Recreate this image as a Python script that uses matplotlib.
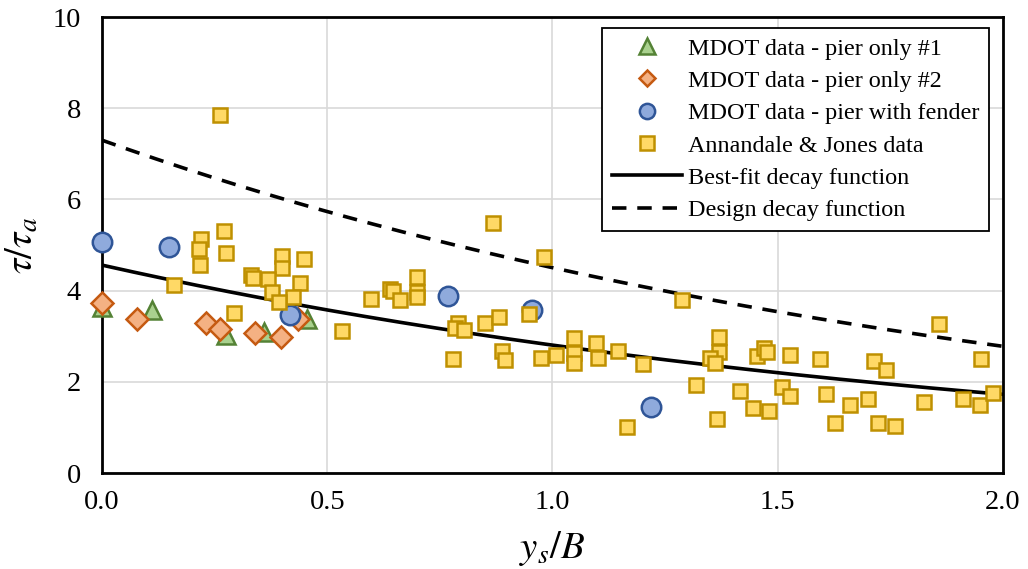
import numpy as np
import matplotlib
matplotlib.use('Agg')
import matplotlib.pyplot as plt

plt.rcParams['font.family'] = ['Liberation Serif', 'DejaVu Serif']
plt.rcParams['mathtext.fontset'] = 'stix'

# MDOT data - pier only #1
pier1_x = [0.0, 0.11, 0.275, 0.36, 0.455]
pier1_y = [3.64, 3.57, 3.03, 3.09, 3.38]

# MDOT data - pier only #2
pier2_x = [0.0, 0.078, 0.23, 0.262, 0.34, 0.397, 0.435]
pier2_y = [3.73, 3.38, 3.29, 3.16, 3.07, 2.98, 3.38]

# MDOT data - pier with fender
fender_x = [0.0, 0.149, 0.417, 0.768, 0.955, 1.219]
fender_y = [5.07, 4.96, 3.46, 3.88, 3.57, 1.45]

# Annandale & Jones data
aj_x = [0.262, 0.271, 0.22, 0.215, 0.275, 0.217, 0.16, 0.40, 0.40, 0.448,
        0.33, 0.335, 0.368, 0.44, 0.377, 0.424, 0.393, 0.293, 0.533,
        0.868, 0.981, 0.699, 0.639, 0.645, 0.699, 0.699, 0.661, 0.597,
        0.79, 0.784, 0.804, 0.85, 0.881, 0.948, 0.78, 0.888, 0.895, 0.974,
        1.008, 1.048, 1.048, 1.048, 1.287, 1.097, 1.10, 1.145, 1.20, 1.318,
        1.37, 1.37, 1.35, 1.36, 1.365, 1.416, 1.445, 1.48, 1.165, 1.454,
        1.47, 1.476, 1.527, 1.509, 1.527, 1.858, 1.594, 1.714, 1.74, 1.951,
        1.607, 1.66, 1.70, 1.627, 1.723, 1.76, 1.825, 1.911, 1.949, 1.978]
aj_y = [7.85, 5.31, 5.13, 4.91, 4.82, 4.56, 4.12, 4.76, 4.50, 4.69,
        4.34, 4.28, 4.25, 4.17, 3.97, 3.86, 3.75, 3.51, 3.11,
        5.48, 4.74, 4.30, 4.03, 3.99, 3.97, 3.86, 3.79, 3.82,
        3.29, 3.18, 3.14, 3.29, 3.42, 3.49, 2.50, 2.68, 2.48, 2.52,
        2.59, 2.96, 2.63, 2.41, 3.79, 2.85, 2.52, 2.68, 2.39, 1.93,
        2.98, 2.65, 2.52, 2.41, 1.18, 1.80, 1.43, 1.36, 1.01, 2.57,
        2.74, 2.65, 2.59, 1.89, 1.69, 3.27, 2.50, 2.46, 2.26, 2.50,
        1.73, 1.49, 1.62, 1.10, 1.10, 1.03, 1.56, 1.62, 1.49, 1.75]

# decay functions: tau/tau_a = a * exp(-k * ys/B)
bestfit_a, bestfit_k = 4.56, 0.486
design_a, design_k = 7.30, 0.483

xs = np.linspace(0, 2, 200)
bestfit = bestfit_a * np.exp(-bestfit_k * xs)
design = design_a * np.exp(-design_k * xs)

fig = plt.figure(figsize=(10.28, 5.69), dpi=100)
ax = fig.add_axes([0.0992, 0.1687, 0.8765, 0.8013])

ax.plot(xs, bestfit, color='black', lw=2.6, zorder=2, label='Best-fit decay function')
ax.plot(xs, design, color='black', lw=2.6, ls=(0, (4, 3)), zorder=2, label='Design decay function')

ax.plot(pier1_x, pier1_y, ls='none', marker='^', ms=13, mfc='#A9D18E', mec='#548235',
        mew=1.8, zorder=4, clip_on=False, label='MDOT data - pier only #1')
ax.plot(pier2_x, pier2_y, ls='none', marker='D', ms=11, mfc='#F4B183', mec='#C55A11',
        mew=1.8, zorder=5, clip_on=False, label='MDOT data - pier only #2')
ax.plot(fender_x, fender_y, ls='none', marker='o', ms=14, mfc='#8FAADC', mec='#2F5597',
        mew=1.8, zorder=6, clip_on=False, label='MDOT data - pier with fender')
ax.plot(aj_x, aj_y, ls='none', marker='s', ms=10, mfc='#FFD966', mec='#BF9000',
        mew=1.8, zorder=7, clip_on=False, label='Annandale & Jones data')

ax.set_xlim(0, 2)
ax.set_ylim(0, 10)
ax.set_xticks([0, 0.5, 1.0, 1.5, 2.0])
ax.set_xticklabels(['0.0', '0.5', '1.0', '1.5', '2.0'])
ax.set_yticks([0, 2, 4, 6, 8, 10])
ax.tick_params(length=0, labelsize=20.5)
ax.tick_params(axis='y', pad=15)
ax.tick_params(axis='x', pad=12)
ax.grid(True, color='#D9D9D9', lw=1.2, zorder=0)
ax.set_axisbelow(True)
for s in ax.spines.values():
    s.set_linewidth(2)
    s.set_color('black')
    s.set_zorder(3)

ax.set_xlabel('$y_s/B$', fontsize=28, labelpad=10)
ax.set_ylabel(r'$\tau/\tau_a$', fontsize=28, labelpad=8)

h, l = ax.get_legend_handles_labels()
order = [2, 3, 4, 5, 0, 1]
leg = ax.legend([h[i] for i in order], [l[i] for i in order], loc='upper right',
                bbox_to_anchor=(0.9845, 0.976), borderaxespad=0, fontsize=17.4,
                fancybox=False, framealpha=1, edgecolor='black',
                handlelength=2.9, handletextpad=0.25, labelspacing=0.43, borderpad=0.4)
leg.get_frame().set_linewidth(1.3)
leg.set_zorder(10)
# legend markers are drawn smaller than on the plot
for hd, ms in zip(leg.legend_handles[:4], [11, 8.5, 11, 9.5]):
    hd.set_markersize(ms)

plt.savefig('out.png', dpi=100)
